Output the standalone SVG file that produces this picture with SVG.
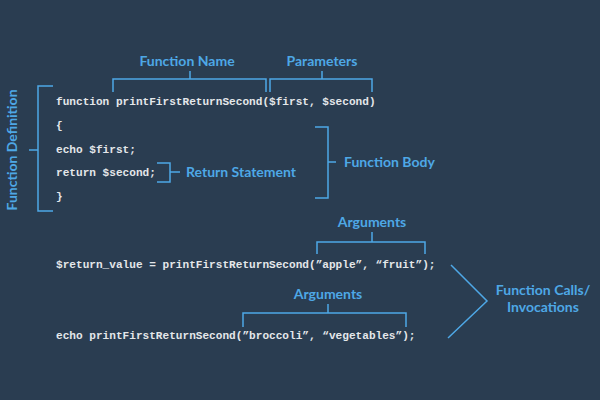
<svg xmlns="http://www.w3.org/2000/svg" width="600" height="400" viewBox="0 0 600 400">
<style>
.code{font-family:"Liberation Mono","Courier New",monospace;font-size:11.1px;font-weight:bold;fill:#e4e7ea}
.lbl{font-family:Lato,"Liberation Sans",sans-serif;font-size:14px;font-weight:bold;fill:#4ea8e6}
.br{fill:none;stroke:#4ea8e6;stroke-width:1.5}
</style>
<rect width="600" height="400" fill="#2a3d51"/>
<g id="code">
<text class="code" x="56" y="105">function printFirstReturnSecond($first, $second)</text>
<text class="code" x="56" y="129">{</text>
<text class="code" x="56" y="153">echo $first;</text>
<text class="code" x="56" y="176">return $second;</text>
<text class="code" x="56" y="200">}</text>
<text class="code" x="56" y="268">$return_value = printFirstReturnSecond(”apple”, “fruit”);</text>
<text class="code" x="56" y="339">echo printFirstReturnSecond(”broccoli”, “vegetables”);</text>
</g>
<g id="connectors">
<path class="br" d="M113,92 V79 H266 V92 M190,79 V71"/>
<path class="br" d="M270,92 V79 H372 V92 M322,79 V71"/>
<path class="br" d="M53,86 H38 V211 H53 M38,150 H29"/>
<path class="br" d="M157,163 H170 V182 H157 M170,172 H180"/>
<path class="br" d="M315,127 H328 V198 H315 M328,162 H336"/>
<path class="br" d="M317,254 V242 H425 V254 M372,242 V232"/>
<path class="br" d="M243,327 V313 H406 V327 M328,313 V304"/>
<path class="br" d="M451,265 L487,301 L448,338"/>
</g>
<g id="function-name"><text class="lbl" x="187" y="66" text-anchor="middle">Function Name</text></g>
<g id="parameters"><text class="lbl" x="322" y="66" text-anchor="middle">Parameters</text></g>
<g id="function-definition"><text class="lbl" transform="translate(17,150) rotate(-90)" text-anchor="middle">Function Definition</text></g>
<g id="return-statement"><text class="lbl" x="186" y="177">Return Statement</text></g>
<g id="function-body"><text class="lbl" x="344" y="167">Function Body</text></g>
<g id="arguments-1"><text class="lbl" x="372" y="227" text-anchor="middle">Arguments</text></g>
<g id="arguments-2"><text class="lbl" x="328" y="299" text-anchor="middle">Arguments</text></g>
<g id="function-calls"><text class="lbl" x="543" y="295" text-anchor="middle">Function Calls/</text><text class="lbl" x="543" y="312" text-anchor="middle">Invocations</text></g>
</svg>
